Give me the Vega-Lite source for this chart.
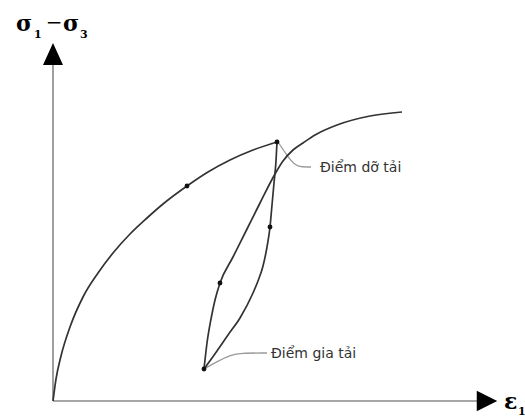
{
  "$schema": "https://vega.github.io/schema/vega-lite/v6.json",
  "width": 525,
  "height": 420,
  "padding": 0,
  "autosize": {"type": "none"},
  "background": "white",
  "config": {"view": {"stroke": null}},
  "datasets": {
    "curves": [
      {"curve": "load", "x": 0, "y": 0},
      {"curve": "load", "x": 3, "y": 22},
      {"curve": "load", "x": 8, "y": 45},
      {"curve": "load", "x": 17, "y": 74},
      {"curve": "load", "x": 30, "y": 104},
      {"curve": "load", "x": 45, "y": 128},
      {"curve": "load", "x": 60, "y": 148},
      {"curve": "load", "x": 77, "y": 167},
      {"curve": "load", "x": 94, "y": 183},
      {"curve": "load", "x": 110, "y": 197},
      {"curve": "load", "x": 134, "y": 215},
      {"curve": "load", "x": 155, "y": 229},
      {"curve": "load", "x": 177, "y": 241},
      {"curve": "load", "x": 200, "y": 251},
      {"curve": "load", "x": 224, "y": 259},
      {"curve": "unload", "x": 224, "y": 259},
      {"curve": "unload", "x": 223, "y": 240},
      {"curve": "unload", "x": 221, "y": 218},
      {"curve": "unload", "x": 219, "y": 196},
      {"curve": "unload", "x": 217, "y": 174},
      {"curve": "unload", "x": 214, "y": 154},
      {"curve": "unload", "x": 210, "y": 135},
      {"curve": "unload", "x": 205, "y": 120},
      {"curve": "unload", "x": 200, "y": 108},
      {"curve": "unload", "x": 187, "y": 83},
      {"curve": "unload", "x": 175, "y": 66},
      {"curve": "unload", "x": 164, "y": 50},
      {"curve": "unload", "x": 151, "y": 32},
      {"curve": "reload", "x": 151, "y": 32},
      {"curve": "reload", "x": 154, "y": 58},
      {"curve": "reload", "x": 158, "y": 82},
      {"curve": "reload", "x": 162, "y": 101},
      {"curve": "reload", "x": 167, "y": 118},
      {"curve": "reload", "x": 180, "y": 144},
      {"curve": "reload", "x": 194, "y": 172},
      {"curve": "reload", "x": 207, "y": 198},
      {"curve": "reload", "x": 222, "y": 227},
      {"curve": "reload", "x": 230, "y": 240},
      {"curve": "reload", "x": 240, "y": 251},
      {"curve": "reload", "x": 250, "y": 258},
      {"curve": "reload", "x": 262, "y": 266},
      {"curve": "reload", "x": 284, "y": 276},
      {"curve": "reload", "x": 317, "y": 285},
      {"curve": "reload", "x": 349, "y": 289}
    ],
    "dots": [
      {"x": 134, "y": 215},
      {"x": 224, "y": 259},
      {"x": 217, "y": 174},
      {"x": 167, "y": 118},
      {"x": 151, "y": 32}
    ],
    "leaders": [
      {"lead": "unload", "x": 225, "y": 259},
      {"lead": "unload", "x": 237, "y": 241},
      {"lead": "unload", "x": 244, "y": 234},
      {"lead": "unload", "x": 258, "y": 234},
      {"lead": "reload", "x": 151, "y": 32},
      {"lead": "reload", "x": 165, "y": 40},
      {"lead": "reload", "x": 178, "y": 46},
      {"lead": "reload", "x": 187, "y": 48},
      {"lead": "reload", "x": 214, "y": 48}
    ],
    "notes": [
      {"x": 267, "y": 233, "text": "Điểm dỡ tải"},
      {"x": 218, "y": 47, "text": "Điểm gia tải"}
    ],
    "axes": [
      {"ax": "y", "x": 0, "y": 0},
      {"ax": "y", "x": 0, "y": 338},
      {"ax": "x", "x": 0, "y": 0},
      {"ax": "x", "x": 426, "y": 0}
    ],
    "arrowUp": [{"x": 0, "y": 347}],
    "arrowRight": [{"x": 434, "y": 0}],
    "bigSym": [
      {"x": -37, "y": 370, "text": "σ"},
      {"x": 10, "y": 370, "text": "σ"},
      {"x": 451, "y": -8, "text": "ε"}
    ],
    "subSym": [
      {"x": -19, "y": 363, "text": "1"},
      {"x": 27, "y": 363, "text": "3"},
      {"x": 465, "y": -14, "text": "1"}
    ],
    "dash": [{"x": 1, "y": 378, "text": "−"}]
  },
  "encoding": {
    "x": {"field": "x", "type": "quantitative", "axis": null, "scale": {"domain": [-53, 472], "nice": false, "zero": false}},
    "y": {"field": "y", "type": "quantitative", "axis": null, "scale": {"domain": [-19, 401], "nice": false, "zero": false}}
  },
  "layer": [
    {
      "data": {"name": "axes"},
      "mark": {"type": "line", "color": "#888", "strokeWidth": 1.6, "clip": false},
      "encoding": {"detail": {"field": "ax"}}
    },
    {
      "data": {"name": "arrowUp"},
      "mark": {"type": "point", "shape": "M-1,1.1L0,-1.1L1,1.1Z", "size": 400, "filled": true, "color": "#000", "opacity": 1}
    },
    {
      "data": {"name": "arrowRight"},
      "mark": {"type": "point", "shape": "M-1,-1L1,0L-1,1Z", "size": 420, "filled": true, "color": "#000", "opacity": 1}
    },
    {
      "data": {"name": "leaders"},
      "mark": {"type": "line", "color": "#999", "strokeWidth": 1.3, "interpolate": "basis"},
      "encoding": {"detail": {"field": "lead"}}
    },
    {
      "data": {"name": "curves"},
      "mark": {"type": "line", "color": "#333", "strokeWidth": 1.7, "interpolate": "monotone"},
      "encoding": {"detail": {"field": "curve"}}
    },
    {
      "data": {"name": "dots"},
      "mark": {"type": "point", "shape": "circle", "size": 24, "filled": true, "color": "#111", "opacity": 1}
    },
    {
      "data": {"name": "notes"},
      "mark": {"type": "text", "align": "left", "baseline": "middle", "font": "DejaVu Sans", "fontSize": 14, "color": "#333"},
      "encoding": {"text": {"field": "text"}}
    },
    {
      "data": {"name": "bigSym"},
      "mark": {"type": "text", "align": "left", "baseline": "alphabetic", "font": "DejaVu Serif", "fontWeight": "bold", "fontSize": 22, "color": "#000"},
      "encoding": {"text": {"field": "text"}}
    },
    {
      "data": {"name": "subSym"},
      "mark": {"type": "text", "align": "left", "baseline": "alphabetic", "font": "DejaVu Serif", "fontWeight": "bold", "fontSize": 11, "color": "#000"},
      "encoding": {"text": {"field": "text"}}
    },
    {
      "data": {"name": "dash"},
      "mark": {"type": "text", "align": "center", "baseline": "middle", "font": "DejaVu Sans", "fontSize": 20, "color": "#000"},
      "encoding": {"text": {"field": "text"}}
    }
  ]
}
